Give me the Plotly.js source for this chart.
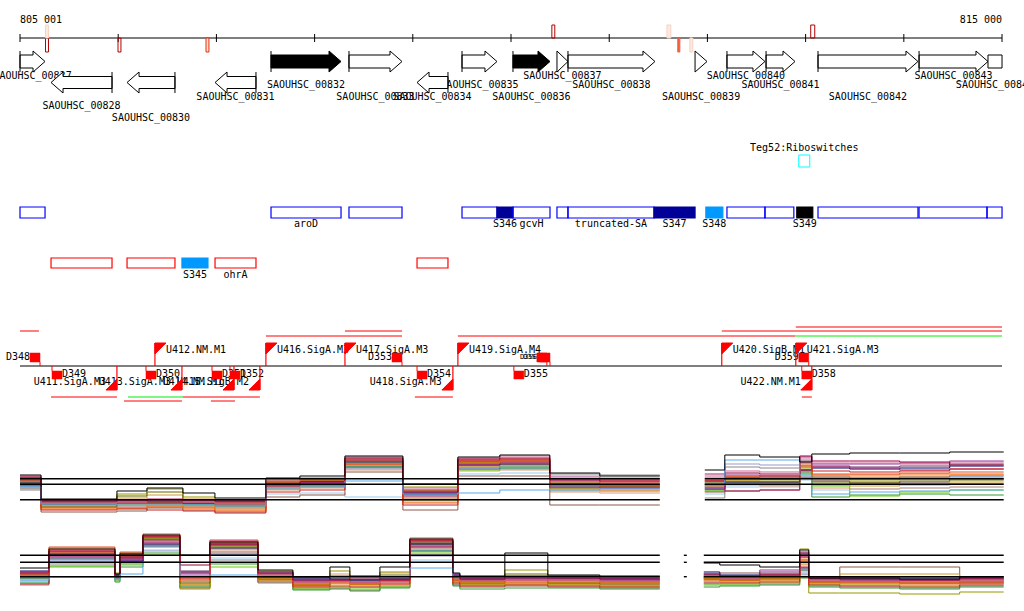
<!DOCTYPE html>
<html>
<head>
<meta charset="utf-8">
<script src="https://cdn.plot.ly/plotly-3.0.1.min.js"></script>
<style>
html,body{margin:0;padding:0;background:#ffffff;}
#chart{width:1024px;height:611px;}
</style>
</head>
<body>
<div id="chart"></div>
<script>
// ================= DATA =================
const viewStart = 805000;
const viewEnd = 815000;
const rulerStartLabel = "805 001";
const rulerEndLabel = "815 000";
const rulerTicks = [805000,806000,807000,808000,809000,810000,811000,812000,813000,814000,815000];

// read-mapping marks on the ruler
const markStart  = [805260, 805260, 805998, 806894, 810416, 811588, 811698, 811821, 813052];
const markEnd    = [805290, 805290, 806028, 806924, 810446, 811627, 811719, 811851, 813093];
const markStrand = ["-", "+", "-", "-", "+", "+", "-", "-", "+"];
const markScore  = [0.9, 0.1, 0.9, 0.7, 0.9, 0.15, 0.6, 0.15, 0.9];

// genes
const geneNames  = ["SAOUHSC_00827","SAOUHSC_00828","SAOUHSC_00830","SAOUHSC_00831","SAOUHSC_00832","SAOUHSC_00833","SAOUHSC_00834","SAOUHSC_00835","SAOUHSC_00836","SAOUHSC_00837","SAOUHSC_00838","SAOUHSC_00839","SAOUHSC_00840","SAOUHSC_00841","SAOUHSC_00842","SAOUHSC_00843","SAOUHSC_00844"];
const geneStart  = [805000, 805316, 806090, 806986, 807556, 808350, 809043, 809501, 810020, 810468, 810580, 811874, 812199, 812597, 813126, 814155, 814857];
const geneEnd    = [805255, 805937, 806578, 807403, 808269, 808890, 809358, 809857, 810397, 810580, 811466, 811996, 812586, 812892, 814144, 814857, 815400];
const geneStrand = ["+","-","-","-","+","+","-","+","+","+","+","+","+","+","+","+","+"];
const geneEssential = [0,0,0,0,1,0,0,0,1,0,0,0,0,0,0,0,0];

// Teg / riboswitch annotation
const riboName = "Teg52:Riboswitches";
const riboStart = 812930, riboEnd = 813042;

// forward-strand transcript features
const fwdFeatStart = [805000, 807556, 808350, 809501, 809857, 810020, 810468, 810580, 811456, 811984, 812199, 812586, 812910, 813126, 814155, 814847];
const fwdFeatEnd   = [805255, 808269, 808890, 809857, 810020, 810397, 810580, 811456, 811874, 812157, 812586, 812880, 813073, 814144, 814847, 815000];
const fwdFeatType  = ["utr","utr","utr","utr","sRNA","utr","utr","utr","sRNA","sRNAnew","utr","utr","sRNAblack","utr","utr","utr"];
const fwdFeatLabel = ["","aroD","","","S346","gcvH","","truncated-SA","S347","S348","","","S349","","",""];

// reverse-strand transcript features
const revFeatStart = [805316, 806090, 806649, 806986, 809043];
const revFeatEnd   = [805937, 806578, 806914, 807403, 809358];
const revFeatType  = ["utr","utr","sRNAnew","utr","utr"];
const revFeatLabel = ["","","S345","ohrA",""];

// transcription units (lines)
const tuStart  = [805000, 807504, 808309, 809459, 812892, 812146, 812900, 805316, 806059, 806099, 806659, 806944, 809021, 812961];
const tuEnd    = [805193, 808890, 808890, 812892, 815000, 815000, 815000, 805987, 806649, 806659, 807443, 807189, 809408, 813063];
const tuStrand = ["+","+","+","+","+","+","+","-","-","-","-","-","-","-"];
const tuClass  = ["A","A","A","A","B","A","A","A","A","B","A","A","A","A"];

// promoters (flags)
const promPos    = [806374, 807504, 808309, 809459, 812146, 812900, 805987, 806649, 807179, 807443, 809408, 813063];
const promStrand = ["+","+","+","+","+","+","-","-","-","-","-","-"];
const promName   = ["U412.NM.M1","U416.SigA.M3","U417.SigA.M3","U419.SigA.M4","U420.SigB.M1","U421.SigA.M3","U411.SigA.M3","U413.SigA.M3","U414.NM.M1","U415.SigB.M2","U418.SigA.M3","U422.NM.M1"];

// terminators / down markers
const termPos    = [805204, 808890, 810365, 810397, 813032, 805326, 806283, 806955, 807138, 809043, 810029, 812961];
const termStrand = ["+","+","+","+","+","-","-","-","-","-","-","-"];
const termName   = ["D348","D353","D356","D357","D359","D349","D350","D351","D352","D354","D355","D358"];

// ---- expression profiles (log2 signal), panel A ----
const profAxLeftA  = [805000, 805214, 805987, 806293, 806659, 806985, 807504, 807850, 808309, 808899, 809459, 809886, 810395, 810904, 811515];
const profAxRightA = [811973, 812177, 812533, 812940, 813063, 813449, 813958, 814467, 815017];
const thresholdsA = [4.13, 3.57, 2.03];

const sA_black  = [4.5, 2.1, 2.9, 3.2, 2.7, 2.2, 4.2, 4.4, 6.4, 3.6, 6.3, 6.5, 4.7, 4.4, 4.4,  5.0, 6.5, 6.3, 5.8, 6.6, 6.7, 6.7, 6.8, 6.8];
const sA_maroon = [4.3, 1.9, 2.0, 1.9, 2.0, 1.9, 3.6, 3.8, 6.2, 2.8, 6.1, 6.2, 4.0, 3.9, 3.9,  3.9, 4.7, 4.6, 6.4, 5.9, 5.9, 5.8, 5.5, 5.5];
const sA_orred  = [4.0, 1.8, 1.7, 1.8, 1.8, 1.7, 4.0, 4.1, 6.0, 3.0, 5.9, 6.0, 3.8, 3.7, 3.7,  4.2, 4.4, 4.3, 5.5, 4.6, 4.6, 4.7, 4.8, 4.8];
const sA_olive  = [3.8, 2.0, 2.6, 3.1, 2.3, 2.0, 3.8, 3.9, 5.7, 3.3, 5.7, 5.8, 3.6, 3.5, 3.5,  3.6, 4.0, 4.0, 5.2, 4.2, 4.0, 4.1, 4.0, 4.0];
const sA_lime   = [3.5, 1.7, 1.6, 1.7, 1.6, 1.6, 3.9, 4.0, 5.3, 2.9, 5.0, 5.1, 3.4, 3.3, 3.3,  3.0, 3.6, 3.5, 4.6, 3.4, 2.4, 2.8, 3.0, 3.0];
const sA_sky    = [3.3, 1.6, 1.5, 1.5, 1.5, 1.4, 3.2, 3.3, 3.9, 2.6, 2.7, 3.0, 3.0, 3.1, 3.1,  3.5, 6.0, 6.0, 4.5, 2.6, 2.8, 2.9, 3.0, 3.0];
const sA_sky2   = [3.1, 1.5, 1.4, 1.4, 1.3, 1.3, 2.6, 2.7, 2.3, 2.1, 4.6, 4.7, 2.9, 2.9, 2.9,  2.6, 3.3, 3.3, 4.0, 3.0, 3.1, 3.2, 3.3, 3.3];
const sA_purple = [4.1, 1.9, 1.8, 2.0, 1.9, 1.8, 3.5, 3.7, 5.9, 2.4, 5.6, 5.7, 3.3, 3.2, 3.2,  3.2, 4.5, 4.4, 6.3, 5.6, 5.6, 5.7, 5.9, 5.9];
const sA_brown  = [3.2, 0.8, 0.9, 1.2, 1.0, 0.8, 2.3, 2.5, 4.8, 1.0, 4.4, 4.4, 1.5, 1.5, 1.5,  2.8, 2.9, 3.0, 4.2, 3.9, 3.8, 3.7, 3.6, 3.6];
const sA_orange = [3.9, 1.4, 1.5, 1.6, 1.4, 1.1, 3.3, 3.6, 5.5, 2.2, 5.4, 5.5, 3.1, 3.0, 3.0,  3.4, 3.9, 3.8, 5.0, 4.4, 4.3, 4.4, 4.5, 4.5];
const sA_tan    = [3.6, 1.2, 1.3, 1.3, 1.2, 1.0, 3.0, 3.2, 5.0, 1.8, 4.9, 5.0, 2.8, 2.7, 2.7,  3.3, 3.5, 3.4, 4.8, 3.2, 3.1, 3.2, 3.3, 3.3];
const sA_lav    = [3.4, 1.5, 1.4, 1.5, 1.4, 1.5, 3.4, 3.5, 5.1, 2.7, 5.2, 5.3, 4.4, 4.2, 4.2,  3.7, 5.6, 5.5, 4.4, 3.6, 3.7, 3.8, 3.9, 3.9];
const sA_navy   = [3.7, 1.8, 1.9, 1.8, 1.7, 1.9, 3.7, 3.8, 5.8, 2.7, 5.5, 5.6, 3.5, 3.4, 3.4,  3.1, 3.8, 3.8, 5.0, 5.2, 5.1, 5.2, 5.4, 5.4];
const sA_red    = [4.2, 1.0, 1.1, 1.0, 0.9, 0.7, 2.8, 3.0, 6.1, 1.5, 6.0, 6.1, 4.1, 4.0, 4.0,  4.0, 4.2, 4.1, 5.7, 4.9, 4.8, 4.9, 5.1, 5.1];
const sA_gray   = [3.0, 1.3, 1.2, 1.3, 1.3, 1.2, 3.1, 3.4, 5.2, 2.5, 5.8, 5.9, 4.6, 4.5, 4.5,  2.2, 5.3, 5.2, 4.3, 4.0, 4.1, 4.2, 4.2, 4.2];
const sA_green  = [3.5, 1.6, 1.6, 1.6, 1.5, 1.5, 3.5, 3.6, 5.4, 3.0, 5.3, 5.4, 3.7, 3.6, 3.6,  2.9, 3.7, 3.7, 4.7, 2.3, 2.5, 2.6, 2.5, 2.5];
const sA_rose   = [3.6, 1.9, 2.0, 2.1, 1.9, 1.8, 3.4, 3.6, 5.6, 2.9, 5.6, 5.8, 3.9, 3.8, 3.8,  4.6, 2.9, 3.0, 5.0, 5.3, 5.2, 5.0, 5.1, 5.1];
const sA_pink   = [4.4, 1.7, 1.8, 1.9, 1.8, 1.6, 3.9, 4.2, 6.3, 3.2, 6.2, 6.4, 4.3, 4.1, 4.1,  4.4, 4.9, 4.8, 6.1, 5.7, 5.7, 5.6, 5.8, 5.8];
const sA_dkolive= [3.9, 1.3, 2.4, 2.8, 2.0, 1.4, 3.6, 3.9, 5.9, 2.0, 5.8, 5.9, 3.2, 3.3, 3.3,  3.8, 4.1, 4.2, 5.4, 3.8, 3.7, 3.9, 4.1, 4.1];
const sA_flame  = [4.2, 1.1, 1.2, 1.4, 1.2, 0.9, 3.7, 4.0, 5.6, 1.7, 5.7, 5.9, 3.5, 3.4, 3.4,  3.9, 4.3, 4.2, 5.3, 4.5, 4.5, 4.6, 4.6, 4.6];
const sA_steel  = [3.4, 1.7, 1.7, 1.7, 1.6, 1.7, 3.3, 3.4, 5.3, 2.6, 5.1, 5.2, 3.3, 3.2, 3.2,  3.3, 4.2, 4.1, 4.9, 4.3, 4.2, 4.3, 4.4, 4.4];
const sA_gold   = [3.7, 1.5, 2.2, 2.5, 2.1, 1.3, 3.1, 3.3, 5.5, 2.3, 5.5, 5.6, 3.0, 2.9, 2.9,  3.6, 3.7, 3.6, 4.9, 3.5, 3.4, 3.5, 3.7, 3.7];
const sA_plum   = [4.0, 1.6, 1.7, 1.7, 1.7, 1.6, 3.8, 4.0, 6.0, 2.6, 5.9, 6.0, 3.6, 3.5, 3.5,  3.5, 4.3, 4.4, 5.9, 5.4, 5.3, 5.4, 5.6, 5.6];

// ---- expression profiles (log2 signal), panel B ----
const profAxLeftB  = [805000, 805295, 805967, 806018, 806252, 806629, 806934, 807423, 807779, 808156, 808359, 808665, 808970, 809408, 809479, 809937, 810375, 810904, 811515];
const profAxMidB   = [811760, 811790];
const profAxRightB = [811963, 812126, 812533, 812940, 813032, 813348, 813958, 814569, 815017];
const thresholdsB = [4.47, 3.77, 2.33];

const sB_black  = [3.2, 5.1, 2.6, 4.6, 6.5, 4.5, 5.8, 3.0, 2.3, 3.3, 2.4, 3.3, 6.1, 2.7, 2.4, 4.7, 2.5, 2.4, 2.4,  3.7, 3.5, 3.3, 5.0, 2.2, 2.2, 2.1, 2.3, 2.3];
const sB_maroon = [2.8, 4.9, 2.4, 4.3, 6.3, 3.5, 5.6, 2.7, 2.0, 2.0, 2.1, 2.0, 5.9, 2.4, 2.1, 2.2, 2.2, 2.1, 2.1,  2.6, 2.4, 2.5, 4.3, 2.2, 2.1, 2.0, 2.2, 2.2];
const sB_orred  = [2.5, 5.3, 2.2, 4.5, 6.6, 2.2, 6.0, 2.5, 1.7, 1.8, 1.7, 1.9, 6.2, 2.0, 1.9, 2.0, 2.0, 1.8, 1.8,  2.4, 2.2, 2.3, 3.8, 1.9, 1.8, 1.7, 1.9, 1.9];
const sB_olive  = [2.6, 4.6, 2.7, 4.8, 6.2, 1.1, 5.3, 2.9, 1.5, 2.9, 1.6, 2.8, 5.7, 2.2, 1.6, 3.0, 1.5, 1.4, 1.4,  2.2, 2.0, 2.1, 5.1, 0.7, 0.7, 0.6, 0.8, 0.8];
const sB_lime   = [2.2, 3.3, 2.0, 3.5, 4.5, 1.5, 3.3, 2.2, 1.2, 1.3, 1.2, 1.4, 4.8, 1.8, 1.7, 1.6, 1.8, 1.7, 1.7,  1.6, 1.6, 1.7, 3.0, 1.6, 1.5, 1.4, 1.7, 1.7];
const sB_sky    = [2.0, 2.3, 2.1, 2.6, 3.8, 2.4, 2.5, 2.4, 2.3, 2.3, 2.3, 2.3, 3.2, 2.3, 2.3, 2.3, 2.3, 2.3, 2.3,  2.3, 2.3, 2.3, 2.3, 2.3, 2.3, 2.3, 2.3, 2.3];
const sB_sky2   = [1.8, 4.0, 1.9, 3.8, 5.0, 2.0, 4.2, 2.3, 2.1, 2.2, 2.2, 2.2, 4.0, 2.2, 2.2, 2.2, 2.2, 2.2, 2.2,  2.0, 2.1, 2.2, 2.5, 2.1, 2.1, 2.0, 2.1, 2.1];
const sB_purple = [2.7, 4.4, 2.3, 4.0, 5.8, 2.6, 5.9, 2.6, 1.9, 1.9, 1.8, 2.0, 5.4, 2.5, 2.0, 2.1, 2.1, 1.9, 1.9,  2.5, 2.3, 3.0, 4.6, 2.0, 1.9, 1.9, 1.7, 1.7];
const sB_brown  = [2.3, 4.2, 2.5, 4.1, 5.5, 1.2, 4.8, 1.8, 1.1, 1.2, 1.0, 1.3, 5.2, 1.5, 1.3, 1.4, 1.3, 1.2, 1.2,  2.1, 2.7, 2.6, 4.0, 1.8, 3.3, 3.3, 2.0, 2.0];
const sB_orange = [2.4, 5.0, 2.2, 4.4, 6.0, 1.6, 5.5, 2.0, 1.4, 1.6, 1.5, 1.5, 5.8, 1.9, 1.5, 1.6, 1.6, 1.5, 1.5,  2.0, 1.9, 2.0, 4.2, 1.7, 1.6, 1.5, 1.8, 1.8];
const sB_tan    = [2.1, 4.7, 2.4, 4.2, 5.9, 1.8, 5.0, 1.9, 1.6, 2.6, 1.9, 2.7, 5.5, 2.1, 1.8, 1.9, 1.9, 1.6, 1.6,  1.9, 1.8, 1.9, 3.5, 1.6, 1.7, 1.6, 1.6, 1.6];
const sB_lav    = [1.9, 3.9, 2.0, 3.6, 4.9, 1.9, 4.5, 2.1, 1.8, 1.7, 1.8, 1.8, 4.4, 2.0, 1.9, 1.8, 1.7, 1.9, 1.9,  1.8, 2.0, 2.1, 2.8, 1.9, 1.9, 1.8, 2.0, 2.0];
const sB_navy   = [2.9, 4.5, 2.5, 3.9, 5.6, 2.8, 5.2, 2.8, 2.2, 2.1, 2.0, 2.1, 5.6, 2.6, 2.2, 2.4, 2.4, 2.2, 2.2,  2.8, 2.5, 2.4, 3.2, 2.3, 2.2, 2.2, 2.3, 2.3];
const sB_red    = [1.6, 4.8, 2.3, 4.7, 6.4, 2.1, 5.7, 2.3, 1.3, 1.4, 1.3, 1.6, 6.0, 1.7, 1.4, 1.5, 1.4, 1.3, 1.3,  1.7, 1.7, 1.8, 3.3, 1.5, 1.4, 1.3, 1.5, 1.5];
const sB_gray   = [1.5, 3.6, 2.1, 3.7, 5.3, 1.4, 4.0, 1.7, 1.9, 2.0, 1.9, 2.0, 4.6, 1.6, 1.6, 1.7, 1.7, 1.8, 1.8,  1.5, 1.5, 1.6, 2.6, 1.4, 1.3, 1.2, 1.4, 1.4];
const sB_green  = [1.7, 3.4, 1.8, 3.3, 4.7, 1.3, 3.6, 2.0, 1.0, 1.1, 0.9, 1.2, 5.0, 1.4, 1.1, 1.2, 1.2, 1.1, 1.1,  1.3, 1.4, 1.5, 2.2, 1.3, 1.2, 1.1, 1.3, 1.3];
const sB_rose   = [2.6, 4.3, 2.2, 4.1, 5.7, 2.7, 5.6, 2.4, 1.8, 1.9, 1.7, 1.9, 5.3, 2.3, 1.9, 2.0, 2.0, 2.0, 2.0,  2.4, 2.2, 2.6, 4.8, 2.1, 2.0, 2.0, 2.1, 2.1];
const sB_pink   = [2.8, 5.0, 2.3, 4.4, 6.4, 2.4, 5.9, 2.5, 1.8, 1.9, 1.7, 1.8, 5.9, 2.2, 1.9, 2.0, 2.0, 1.9, 1.9,  2.3, 2.2, 2.3, 4.4, 2.0, 1.9, 1.9, 2.0, 2.0];
const sB_dkolive= [2.5, 4.6, 2.6, 4.4, 6.1, 1.7, 5.4, 2.1, 1.5, 2.4, 1.6, 2.5, 5.6, 2.0, 1.7, 2.6, 1.7, 1.6, 1.6,  2.1, 2.0, 2.2, 4.6, 1.8, 1.8, 1.7, 1.8, 1.8];
const sB_flame  = [2.4, 5.2, 2.3, 4.6, 6.3, 1.9, 5.8, 2.2, 1.6, 1.7, 1.6, 1.7, 6.0, 1.9, 1.7, 1.8, 1.8, 1.7, 1.7,  2.2, 2.0, 2.1, 4.0, 1.8, 1.7, 1.7, 1.8, 1.8];
const sB_steel  = [2.2, 4.1, 2.2, 3.9, 5.4, 2.3, 4.6, 2.3, 2.0, 2.0, 2.0, 2.1, 4.9, 2.2, 2.0, 2.1, 2.1, 2.0, 2.0,  2.2, 2.1, 2.2, 3.0, 2.1, 2.0, 2.0, 2.1, 2.1];
const sB_gold   = [2.3, 4.8, 2.4, 4.3, 6.1, 1.5, 5.1, 2.0, 1.4, 2.1, 1.4, 2.2, 5.4, 1.8, 1.5, 1.7, 1.6, 1.4, 1.4,  1.9, 1.8, 2.0, 3.6, 1.7, 2.6, 2.6, 1.8, 1.8];
const sB_plum   = [2.7, 4.6, 2.4, 4.2, 6.0, 2.9, 5.5, 2.6, 2.1, 2.0, 2.0, 2.1, 5.7, 2.5, 2.1, 2.3, 2.2, 2.1, 2.1,  2.6, 2.4, 2.8, 4.7, 2.1, 2.0, 2.0, 2.1, 2.1];

// ================= STYLE / LAYOUT =================
const FONT = "DejaVu Sans Mono";
const BP_PER_PX = 10.183;
const px = n => n * BP_PER_PX;              // pixel length -> bp length
const HEAD = px(12), SQ = px(10), FLAG = px(11);
const Y = {
  rulerLabel: 20, ruler: 38,
  fwdGene: 61.5, revGene: 82.5, geneLabel: [76, 85, 97, 106, 118],
  riboLabel: 148, ribo: [155, 167],
  fwdFeat: [207, 218], fwdFeatLabel: 224,
  revFeat: [258, 268], revFeatLabel: 275,
  base: 366
};
const geneLabelLane = [0,3,4,2,1,2,2,1,2,0,1,2,0,1,2,0,1];
const tuLane = [1,0,1,0,0,1,2,0,1,0,0,1,0,0];
const tuLaneYfwd = [336, 331, 327], tuLaneYrev = [397, 401];
const seriesColors = {
  black:"#000000", maroon:"#990033", orred:"#e0552a", olive:"#999900", lime:"#66cc00", sky:"#55aaee",
  sky2:"#99ccee", purple:"#993399", brown:"#8b5a4a", orange:"#ee8833", tan:"#dd9977", lav:"#9999cc",
  navy:"#000066", red:"#cc2222", gray:"#888888", green:"#339933", rose:"#aa2266",
  pink:"#cc6699", dkolive:"#666600", flame:"#ff6600", steel:"#336699", gold:"#cc9933", plum:"#663366"
};

const shapes = [];
const traces = [];
function rect(x0,x1,y0,y1,line,fill,w){
  shapes.push({type:'rect',xref:'x',yref:'y',x0:x0,x1:x1,y0:y0,y1:y1,
    line:{color:line||'rgba(0,0,0,0)',width:(w===undefined?1:w)},fillcolor:fill||'rgba(0,0,0,0)'});
}
function seg(x0,y0,x1,y1,color,w){
  shapes.push({type:'line',xref:'x',yref:'y',x0:x0,y0:y0,x1:x1,y1:y1,line:{color:color,width:w||1}});
}
function poly(pts,line,fill){
  const d = 'M' + pts.map(p => p[0] + ',' + p[1]).join(' L') + ' Z';
  shapes.push({type:'path',xref:'x',yref:'y',path:d,line:{color:line,width:1},fillcolor:fill||'rgba(0,0,0,0)'});
}
function texts(xs, ys, t, pos, size){
  traces.push({type:'scatter',mode:'text',x:xs,y:ys,text:t,textposition:pos,
    textfont:{family:FONT,size:size||10,color:'#000'},hoverinfo:'skip',showlegend:false,cliponaxis:false});
}

// ---- ruler ----
seg(viewStart, Y.ruler, viewEnd, Y.ruler, '#000', 1);
rulerTicks.forEach(t => seg(t, Y.ruler-4, t, Y.ruler+4, '#000', 1));
texts([viewStart],[Y.rulerLabel],[rulerStartLabel],'middle right');
texts([viewEnd],[Y.rulerLabel],[rulerEndLabel],'middle left');
markStart.forEach((s,i) => {
  const sc = markScore[i];
  let stroke, fill;
  if (sc >= 0.85) { stroke = '#b00000'; fill = 'rgba(0,0,0,0)'; }
  else if (sc >= 0.65) { stroke = '#e03010'; fill = '#fde0d0'; }
  else if (sc >= 0.4) { stroke = '#f06040'; fill = '#f06040'; }
  else { stroke = '#f6d2c2'; fill = '#fcebe3'; }
  const y0 = markStrand[i] === '+' ? Y.ruler - 13 : Y.ruler;
  const y1 = markStrand[i] === '+' ? Y.ruler : Y.ruler + 14;
  rect(s, markEnd[i], y0, y1, stroke, fill, 1);
});

// ---- genes ----
const gLx = [], gLy = [], gLt = [];
geneNames.forEach((name,i) => {
  const s = geneStart[i], e = geneEnd[i];
  const fill = geneEssential[i] ? '#000' : '#fff';
  const clipped = e > viewEnd;
  const eV = Math.min(e, viewEnd);
  if (geneStrand[i] === '+') {
    const cy = Y.fwdGene, sh = 6.5, hh = 10.5;
    if (clipped) {
      rect(s, eV, cy-sh, cy+sh, '#000', fill, 1);
    } else if (e - s <= HEAD) {
      poly([[s,cy-hh],[e,cy],[s,cy+hh]], '#000', fill);
    } else {
      poly([[s,cy-sh],[e-HEAD,cy-sh],[e-HEAD,cy-hh],[e,cy],[e-HEAD,cy+hh],[e-HEAD,cy+sh],[s,cy+sh]], '#000', fill);
      seg(s, cy-hh, s, cy+hh, '#000', 1);
    }
  } else {
    const cy = Y.revGene, sh = 6, hh = 10.5;
    if (e - s <= HEAD) {
      poly([[e,cy-hh],[s,cy],[e,cy+hh]], '#000', fill);
    } else {
      poly([[e,cy-sh],[s+HEAD,cy-sh],[s+HEAD,cy-hh],[s,cy],[s+HEAD,cy+hh],[s+HEAD,cy+sh],[e,cy+sh]], '#000', fill);
      seg(e, cy-hh, e, cy+hh, '#000', 1);
    }
  }
  gLx.push((s + eV) / 2); gLy.push(Y.geneLabel[geneLabelLane[i]]); gLt.push(name);
});
texts(gLx, gLy, gLt, 'middle center');

// ---- riboswitch ----
rect(riboStart, riboEnd, Y.ribo[0], Y.ribo[1], '#00ffff', 'rgba(0,0,0,0)', 1);
texts([(riboStart+riboEnd)/2],[Y.riboLabel],[riboName],'middle center');

// ---- features ----
function featStyle(t, outline){
  if (t === 'sRNA') return {line:'#000099', fill:'#000099'};
  if (t === 'sRNAnew') return {line:'#0099ff', fill:'#0099ff'};
  if (t === 'sRNAblack') return {line:'#000000', fill:'#000000'};
  return {line:outline, fill:'rgba(0,0,0,0)'};
}
const fLx=[], fLy=[], fLt=[];
fwdFeatStart.forEach((s,i) => {
  const st = featStyle(fwdFeatType[i], '#0000ff');
  rect(s, fwdFeatEnd[i], Y.fwdFeat[0], Y.fwdFeat[1], st.line, st.fill, 1.2);
  if (fwdFeatLabel[i]) { fLx.push((s+fwdFeatEnd[i])/2); fLy.push(Y.fwdFeatLabel); fLt.push(fwdFeatLabel[i]); }
});
revFeatStart.forEach((s,i) => {
  const st = featStyle(revFeatType[i], '#ff0000');
  rect(s, revFeatEnd[i], Y.revFeat[0], Y.revFeat[1], st.line, st.fill, 1.2);
  if (revFeatLabel[i]) { fLx.push((s+revFeatEnd[i])/2); fLy.push(Y.revFeatLabel); fLt.push(revFeatLabel[i]); }
});
texts(fLx, fLy, fLt, 'middle center');

// ---- transcription units ----
tuStart.forEach((s,i) => {
  const y = tuStrand[i] === '+' ? tuLaneYfwd[tuLane[i]] : tuLaneYrev[tuLane[i]];
  seg(s, y, tuEnd[i], y, tuClass[i] === 'A' ? '#ff0000' : '#00ee00', 1);
});

// ---- baseline ----
seg(viewStart, Y.base, viewEnd, Y.base, '#000', 1.2);

// ---- terminators ----
const tRx=[],tRy=[],tRt=[], tLx=[],tLy=[],tLt=[], tSx=[],tSy=[],tSt=[];
termPos.forEach((p,i) => {
  const small = (termName[i] === 'D356' || termName[i] === 'D357');
  if (termStrand[i] === '+') {
    rect(p - SQ, p, Y.base - 13, Y.base - 4, '#ff0000', '#ff0000', 0.5);
    seg(p, Y.base - 4, p, Y.base, '#ff0000', 1);
    if (small) { tSx.push(p - SQ); tSy.push(Y.base - 9); tSt.push(termName[i]); }
    else { tLx.push(p - SQ); tLy.push(Y.base - 9); tLt.push(termName[i]); }
  } else {
    rect(p, p + SQ, Y.base + 5, Y.base + 13, '#ff0000', '#ff0000', 0.5);
    seg(p, Y.base, p, Y.base + 5, '#ff0000', 1);
    tRx.push(p + SQ); tRy.push(Y.base + 8); tRt.push(termName[i]);
  }
});
texts(tLx, tLy, tLt, 'middle left');
texts(tRx, tRy, tRt, 'middle right');
texts(tSx, tSy, tSt, 'middle left', 7);

// ---- promoters ----
const pRx=[],pRy=[],pRt=[], pLx=[],pLy=[],pLt=[];
promPos.forEach((p,i) => {
  if (promStrand[i] === '+') {
    seg(p, Y.base, p, Y.base - 23, '#ff0000', 1.2);
    poly([[p, Y.base-23],[p+FLAG, Y.base-23],[p, Y.base-12]], '#ff0000', '#ff0000');
    pRx.push(p + FLAG); pRy.push(Y.base - 16); pRt.push(promName[i]);
  } else {
    seg(p, Y.base, p, Y.base + 24, '#ff0000', 1.2);
    poly([[p, Y.base+24],[p-FLAG, Y.base+24],[p, Y.base+13]], '#ff0000', '#ff0000');
    pLx.push(p - FLAG); pLy.push(Y.base + 16); pLt.push(promName[i]);
  }
});
texts(pRx, pRy, pRt, 'middle right');
texts(pLx, pLy, pLt, 'middle left');

// ---- expression profiles ----
function addProfiles(axis, leftX, rightX, series){
  const nL = leftX.length;
  Object.keys(series).forEach(k => {
    const v = series[k];
    traces.push({type:'scatter', mode:'lines', yaxis:axis,
      x: leftX.concat([null], rightX),
      y: v.slice(0, nL).concat([null], v.slice(nL)),
      line:{color:seriesColors[k], width:1, shape:'hv'}, connectgaps:false,
      hoverinfo:'skip', showlegend:false});
  });
}
addProfiles('y2', profAxLeftA, profAxRightA, {
  sky2:sA_sky2, gray:sA_gray, lav:sA_lav, tan:sA_tan, brown:sA_brown, green:sA_green, lime:sA_lime,
  steel:sA_steel, gold:sA_gold, orange:sA_orange, olive:sA_olive, dkolive:sA_dkolive, navy:sA_navy,
  purple:sA_purple, plum:sA_plum, rose:sA_rose, flame:sA_flame, orred:sA_orred, pink:sA_pink,
  red:sA_red, maroon:sA_maroon, sky:sA_sky, black:sA_black});
addProfiles('y3', profAxLeftB, profAxRightB, {
  sky2:sB_sky2, gray:sB_gray, lav:sB_lav, tan:sB_tan, brown:sB_brown, green:sB_green, lime:sB_lime,
  steel:sB_steel, gold:sB_gold, orange:sB_orange, olive:sB_olive, dkolive:sB_dkolive, navy:sB_navy,
  purple:sB_purple, plum:sB_plum, rose:sB_rose, flame:sB_flame, orred:sB_orred, pink:sB_pink,
  red:sB_red, maroon:sB_maroon, sky:sB_sky, black:sB_black});

function addThresholds(axis, vals, spans){
  vals.forEach(v => {
    const xs = [], ys = [];
    spans.forEach((sp, j) => { if (j) { xs.push(null); ys.push(null); } xs.push(sp[0], sp[sp.length-1]); ys.push(v, v); });
    traces.push({type:'scatter', mode:'lines', yaxis:axis, x:xs, y:ys, connectgaps:false,
      line:{color:'#000', width:1.4}, hoverinfo:'skip', showlegend:false});
  });
}
addThresholds('y2', thresholdsA, [profAxLeftA, profAxRightA]);
addThresholds('y3', thresholdsB, [profAxLeftB, profAxMidB, profAxRightB]);

const leftPad = px(20), rightPad = px(1024 - 20);
const layout = {
  width:1024, height:611, margin:{l:0,r:0,t:0,b:0,pad:0},
  paper_bgcolor:'#ffffff', plot_bgcolor:'#ffffff', showlegend:false,
  xaxis:{range:[viewStart - leftPad, viewStart + rightPad], visible:false, fixedrange:true},
  yaxis:{range:[611, 0], visible:false, fixedrange:true},
  yaxis2:{range:[(520-611)/10, 52], overlaying:'y', visible:false, fixedrange:true},
  yaxis3:{range:[(600-611)/10, 60], overlaying:'y', visible:false, fixedrange:true},
  shapes: shapes,
  font:{family:FONT, size:10, color:'#000'}
};
Plotly.newPlot('chart', traces, layout, {staticPlot:true, displayModeBar:false});
</script>
</body>
</html>
